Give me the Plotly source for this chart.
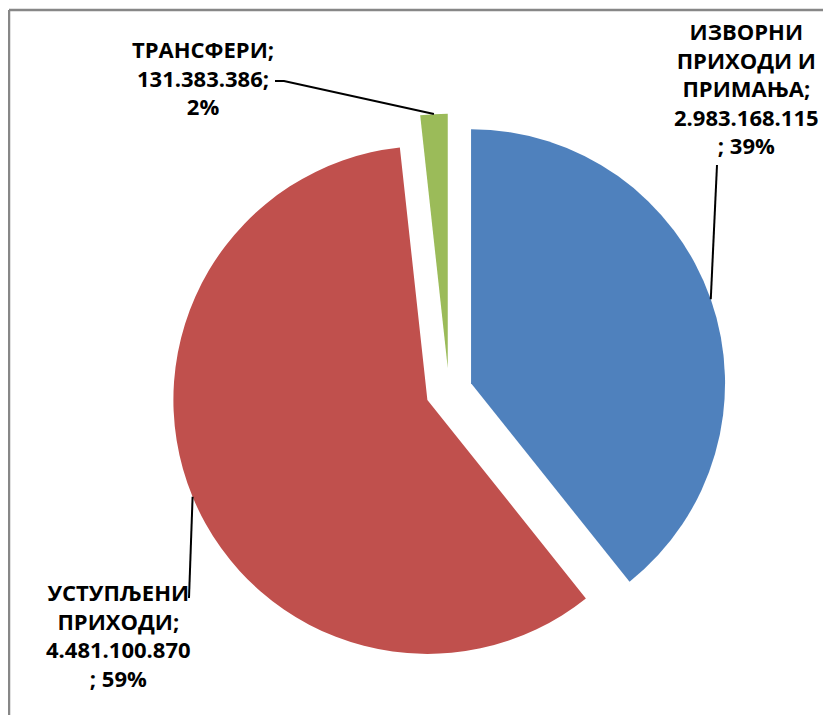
import math
import plotly.graph_objects as go

# the page body adds an 8 px margin; the figure is sized and placed to compensate
OFF = 8
W, H = 831 - OFF, 715 - OFF

# ---- data ----
categories = ["ИЗВОРНИ ПРИХОДИ И ПРИМАЊА", "УСТУПЉЕНИ ПРИХОДИ", "ТРАНСФЕРИ"]
values = [2983168115, 4481100870, 131383386]
colors = ["#4F81BD", "#C0504D", "#9BBB59"]
# how category names are wrapped in the labels
label_names = ["ИЗВОРНИ<br>ПРИХОДИ И<br>ПРИМАЊА;", "УСТУПЉЕНИ<br>ПРИХОДИ;", "ТРАНСФЕРИ;"]
label_tails = ["<br>; ", "<br>; ", ";<br>"]

# ---- layout geometry (screen pixels) ----
CX, CY, R = 449, 391, 254
PULL = 0.092
label_pos = [(746, 88), (118, 635), (203, 77)]
leader_ends = [[(717, 165)], [(189, 598)], [(284, 81), (275, 81)]]


def px(x, y):
    return (x - OFF) / W, 1 - (y - OFF) / H


side = 2 * R * (1 + PULL)
x0, y0 = px(CX - side / 2, CY + side / 2)
x1, y1 = px(CX + side / 2, CY - side / 2)

fig = go.Figure(go.Pie(
    labels=categories, values=values, sort=False, direction="clockwise",
    rotation=0, pull=[PULL] * len(values), textinfo="none",
    marker=dict(colors=colors, line=dict(width=0)),
    domain=dict(x=[x0, x1], y=[y0, y1]), showlegend=False,
    hoverinfo="label+value+percent",
))

total = sum(values)
cum = 0.0
shapes = []
annotations = []
for i, v in enumerate(values):
    frac = v / total
    mid = (cum + frac / 2) * 2 * math.pi  # clockwise from 12 o'clock
    cum += frac
    dx, dy = math.sin(mid), -math.cos(mid)
    apx = CX + PULL * R * dx
    apy = CY + PULL * R * dy
    tip = (apx + R * dx, apy + R * dy)
    pts = [tip] + leader_ends[i]
    path = "M " + " L ".join("{},{}".format(*px(x, y)) for x, y in pts)
    shapes.append(dict(type="path", xref="paper", yref="paper", path=path,
                       line=dict(color="black", width=2)))
    num = f"{v:,}".replace(",", ".")
    pct = round(frac * 100)
    text = f"<b>{label_names[i]}<br>{num}{label_tails[i]}{pct}%</b>"
    lx, ly = px(*label_pos[i])
    annotations.append(dict(x=lx, y=ly, xref="paper", yref="paper",
                            text=text, showarrow=False, xanchor="center",
                            yanchor="middle", align="center",
                            font=dict(family="Open Sans", size=22, color="black")))

# chart frame (top and left edges visible)
fx, fy = px(9, 10)
shapes.append(dict(type="line", xref="paper", yref="paper", x0=fx, x1=1.02,
                   y0=fy, y1=fy, line=dict(color="#878787", width=2.5)))
shapes.append(dict(type="line", xref="paper", yref="paper", x0=fx, x1=fx,
                   y0=fy, y1=-0.02, line=dict(color="#878787", width=2.5)))

fig.update_layout(width=W, height=H, margin=dict(l=0, r=0, t=0, b=0),
                  paper_bgcolor="white", plot_bgcolor="white",
                  shapes=shapes, annotations=annotations)
fig.write_html("out.html")
